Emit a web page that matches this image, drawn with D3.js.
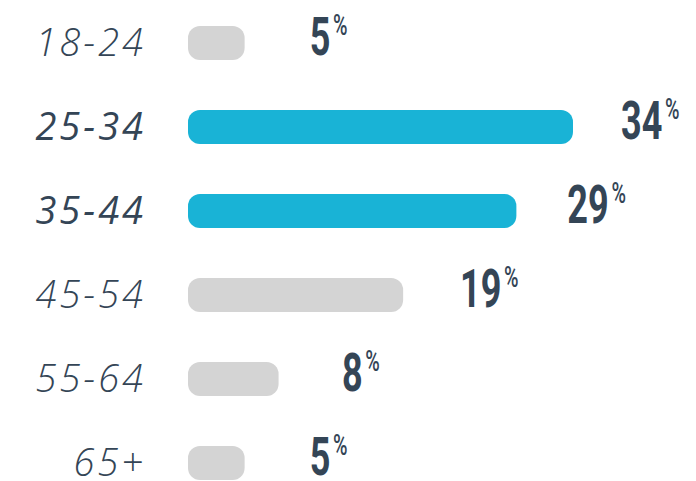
<!DOCTYPE html>
<html><head><meta charset="utf-8">
<script src="https://cdn.jsdelivr.net/npm/d3@7"></script>
<style>body{margin:0;background:#fff}svg{display:block}</style>
</head><body>
<script>
const categories = ["18-24","25-34","35-44","45-54","55-64","65+"];
const values = [5,34,29,19,8,5];
const highlighted = [false,true,true,false,false,false];

const W=696,H=481;
const svg=d3.select("body").append("svg").attr("width",W).attr("height",H);
const y=d3.scalePoint().domain(categories).range([43,463]);
const x=d3.scaleLinear().domain([0,34]).range([188,573]);
const xLabel=d3.scaleLinear().domain([0,34]).range([257,622]);
const barH=34;
const textColor="#344556";

const g=svg.selectAll("g.row").data(categories).join("g").attr("class","row");
g.append("rect")
  .attr("x",x(0)).attr("y",d=>y(d)-barH/2)
  .attr("width",(d,i)=>x(values[i])-x(0)).attr("height",barH)
  .attr("rx",12).attr("ry",12)
  .attr("fill",(d,i)=>highlighted[i]?"#19b3d6":"#d4d4d4");
g.append("text")
  .attr("x",146).attr("y",d=>y(d)+13)
  .attr("text-anchor","end")
  .attr("font-family","'Open Sans', Lato, sans-serif")
  .attr("font-style","italic")
  .attr("font-weight",(d,i)=>highlighted[i]?500:300)
  .attr("font-size",38)
  .attr("letter-spacing",3)
  .attr("fill",textColor)
  .text(d=>d);
const lab=g.append("text")
  .attr("transform",(d,i)=>`translate(${xLabel(values[i])-1},${y(d)+12}) scale(0.68,1)`)
  .attr("font-family","Roboto, sans-serif")
  .attr("font-weight",700)
  .attr("fill",textColor);
lab.append("tspan").attr("font-size",53).text((d,i)=>values[i]);
lab.append("tspan").attr("font-size",29).attr("font-weight",500).attr("dx",4).attr("dy",-20).text("%");
</script>
</body></html>
